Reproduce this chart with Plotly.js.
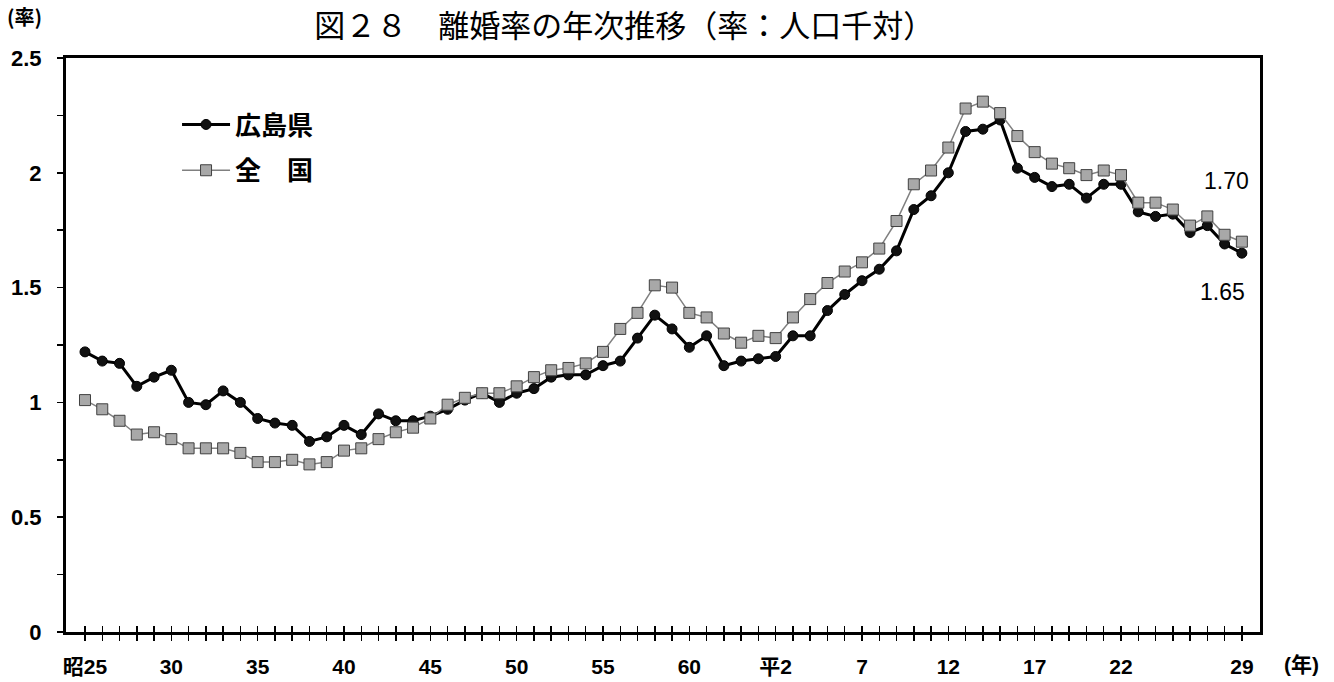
<!DOCTYPE html>
<html><head><meta charset="utf-8">
<script src="https://cdn.plot.ly/plotly-3.0.1.min.js"></script>
<style>html,body{margin:0;padding:0;background:#fff}#chart{width:1334px;height:682px}</style>
</head><body><div id="chart"></div>
<script>
const years = [1950,1951,1952,1953,1954,1955,1956,1957,1958,1959,
  1960,1961,1962,1963,1964,1965,1966,1967,1968,1969,
  1970,1971,1972,1973,1974,1975,1976,1977,1978,1979,
  1980,1981,1982,1983,1984,1985,1986,1987,1988,1989,
  1990,1991,1992,1993,1994,1995,1996,1997,1998,1999,
  2000,2001,2002,2003,2004,2005,2006,2007,2008,2009,
  2010,2011,2012,2013,2014,2015,2016,2017];
const hiroshima = [1.22,1.18,1.17,1.07,1.11,1.14,1.00,0.99,1.05,1.00,
  0.93,0.91,0.90,0.83,0.85,0.90,0.86,0.95,0.92,0.92,
  0.94,0.97,1.01,1.04,1.00,1.04,1.06,1.11,1.12,1.12,
  1.16,1.18,1.28,1.38,1.32,1.24,1.29,1.16,1.18,1.19,
  1.20,1.29,1.29,1.40,1.47,1.53,1.58,1.66,1.84,1.90,
  2.00,2.18,2.19,2.23,2.02,1.98,1.94,1.95,1.89,1.95,
  1.95,1.83,1.81,1.82,1.74,1.77,1.69,1.65];
const zenkoku = [1.01,0.97,0.92,0.86,0.87,0.84,0.80,0.80,0.80,0.78,
  0.74,0.74,0.75,0.73,0.74,0.79,0.80,0.84,0.87,0.89,
  0.93,0.99,1.02,1.04,1.04,1.07,1.11,1.14,1.15,1.17,
  1.22,1.32,1.39,1.51,1.50,1.39,1.37,1.30,1.26,1.29,
  1.28,1.37,1.45,1.52,1.57,1.61,1.67,1.79,1.95,2.01,
  2.11,2.28,2.31,2.26,2.16,2.09,2.04,2.02,1.99,2.01,
  1.99,1.87,1.87,1.84,1.77,1.81,1.73,1.70];
const labelYears = [1950,1955,1960,1965,1970,1975,1980,1985,1990,1995,2000,2005,2010,2017];
const labelTexts = ['昭25','30','35','40','45','50','55','60','平2','7','12','17','22','29'];
const seriesNames = ['広島県','全　国'];

const tickText = years.map(y => { const i = labelYears.indexOf(y); return i >= 0 ? labelTexts[i] : ''; });
const yFont = {family: 'Liberation Sans, Arial, Noto Sans CJK JP', size: 22, color: '#000', weight: 'bold'};
const xFont = {family: 'Liberation Sans, Arial, Noto Sans CJK JP', size: 21, color: '#000', weight: 'bold'};
const xRange = [1948.9, 2018.05];

const traces = [
  {x: years, y: zenkoku, name: seriesNames[1], type: 'scatter', mode: 'lines+markers',
   legendgroup: 'b', legendrank: 2, xaxis: 'x2',
   line: {color: '#808080', width: 1.5},
   marker: {symbol: 'square', size: 11, color: '#a8a8a8', line: {color: '#404040', width: 1}}},
  {x: years, y: hiroshima, name: seriesNames[0], type: 'scatter', mode: 'lines+markers',
   legendgroup: 'a', legendrank: 1,
   line: {color: '#000', width: 3},
   marker: {symbol: 'circle', size: 10, color: '#111', line: {color: '#000', width: 1}}}
];

const layout = {
  width: 1334, height: 682,
  margin: {l: 66, r: 74, t: 58, b: 50},
  paper_bgcolor: '#fff', plot_bgcolor: '#fff',
  showlegend: true,
  legend: {x: 0.093, y: 0.925, xanchor: 'left', yanchor: 'top', bgcolor: 'rgba(0,0,0,0)',
    traceorder: 'grouped', tracegroupgap: 9, itemwidth: 48,
    font: {family: 'Noto Sans CJK JP', size: 26, color: '#000', weight: 'bold'}},
  title: {text: '図２８　離婚率の年次推移（率：人口千対）', x: 0.468, xanchor: 'center', y: 0.962, yanchor: 'middle',
    font: {family: 'Noto Sans CJK JP', size: 31, color: '#000'}},
  xaxis: {range: xRange, tickmode: 'array', tickvals: years, ticktext: tickText,
    ticks: 'outside', ticklen: 6, tickwidth: 1.5, tickcolor: '#000',
    showline: true, linewidth: 3, linecolor: '#000', mirror: true,
    showgrid: false, zeroline: false, tickfont: xFont, ticklabelstandoff: 8, tickangle: 0},
  xaxis2: {range: xRange, overlaying: 'x', anchor: 'y', side: 'bottom', tickmode: 'array', tickvals: years,
    ticks: 'inside', ticklen: 6, tickwidth: 1.5, tickcolor: '#000', showticklabels: false,
    showline: false, showgrid: false, zeroline: false},
  yaxis: {range: [0, 2.5], tickvals: [0, 0.5, 1, 1.5, 2, 2.5], ticktext: ['0','0.5','1','1.5','2','2.5'],
    ticks: 'outside', ticklen: 6, tickwidth: 1.5, tickcolor: '#000',
    minor: {dtick: 0.25, tick0: 0, ticks: 'outside', ticklen: 6, tickwidth: 1.5, tickcolor: '#000'},
    showline: true, linewidth: 3, linecolor: '#000', mirror: true,
    showgrid: false, zeroline: false, tickfont: yFont, ticklabelstandoff: 11},
  annotations: [
    {text: '(率)', xref: 'paper', yref: 'paper', x: -0.051, y: 1.072, xanchor: 'left', yanchor: 'middle', showarrow: false,
     font: {family: 'Noto Sans CJK JP', size: 20, color: '#000', weight: 'bold'}},
    {text: '(年)', xref: 'paper', yref: 'paper', x: 1.035, y: -0.057, xanchor: 'center', yanchor: 'middle', showarrow: false,
     font: {family: 'Liberation Sans, Noto Sans CJK JP', size: 21, color: '#000', weight: 'bold'}},
    {text: zenkoku[zenkoku.length-1].toFixed(2), x: years[years.length-1], y: zenkoku[zenkoku.length-1], xref: 'x', yref: 'y',
     xshift: -15, yshift: 61, showarrow: false,
     font: {family: 'Liberation Sans, Arial', size: 23, color: '#000'}},
    {text: hiroshima[hiroshima.length-1].toFixed(2), x: years[years.length-1], y: hiroshima[hiroshima.length-1], xref: 'x', yref: 'y',
     xshift: -19, yshift: -39, showarrow: false,
     font: {family: 'Liberation Sans, Arial', size: 23, color: '#000'}}
  ]
};

Plotly.newPlot('chart', traces, layout, {displayModeBar: false, staticPlot: true});
</script>
</body></html>
